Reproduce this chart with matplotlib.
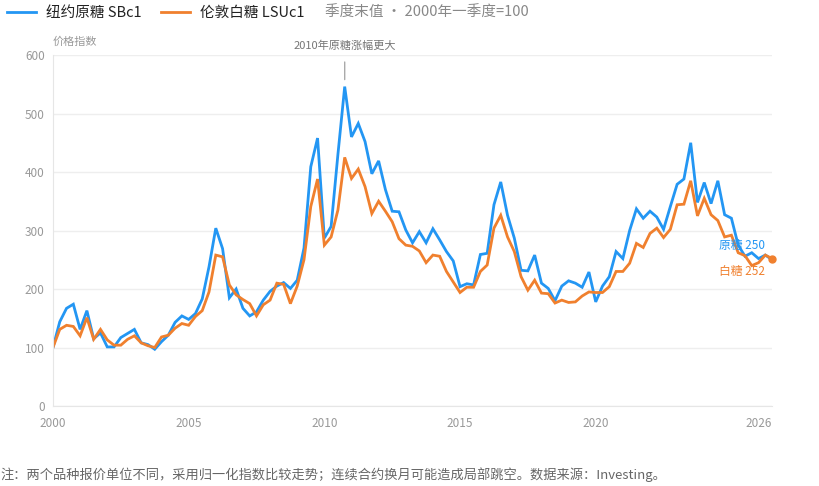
import matplotlib
matplotlib.use("Agg")
import matplotlib.pyplot as plt
import numpy as np

plt.rcParams['font.family'] = ['Noto Sans CJK SC', 'DejaVu Sans']

# quarterly index values, 2000 Q1 = 100
raw_sugar = [100, 144, 167, 174, 131, 163, 115, 125, 101, 101,
             117, 124, 131, 108, 105, 97, 110, 121, 143, 154,
             148, 158, 183, 238, 304, 269, 185, 200, 167, 154,
             161, 181, 196, 205, 211, 201, 215, 270, 409, 458,
             287, 307, 430, 546, 460, 483, 452, 397, 419, 370,
             333, 332, 301, 279, 298, 279, 303, 284, 264, 248,
             204, 209, 207, 259, 261, 344, 383, 326, 287, 232,
             231, 258, 210, 201, 180, 205, 214, 210, 203, 229,
             178, 205, 221, 264, 252, 300, 337, 321, 333, 323,
             302, 341, 379, 388, 450, 348, 382, 346, 385, 327,
             321, 275, 256, 262, 252, 258, 250]
white_sugar = [100, 131, 138, 136, 120, 151, 114, 131, 113, 104,
               104, 114, 120, 108, 103, 100, 118, 121, 133, 141,
               138, 153, 163, 195, 258, 255, 207, 190, 182, 175,
               154, 173, 181, 210, 208, 175, 205, 250, 341, 388,
               275, 289, 335, 425, 389, 405, 375, 329, 350, 333,
               315, 286, 275, 273, 265, 245, 258, 256, 230, 212,
               194, 203, 203, 230, 241, 304, 326, 289, 264, 221,
               198, 215, 193, 192, 176, 181, 177, 178, 188, 195,
               194, 194, 204, 230, 230, 244, 278, 271, 295, 304,
               288, 302, 344, 345, 385, 325, 355, 327, 317, 289,
               292, 262, 257, 240, 245, 258, 252]
quarters = 2000 + 0.25 * np.arange(len(raw_sugar))
year_ticks = [2000, 2005, 2010, 2015, 2020, 2026]

blue = '#2396f3'
orange = '#f0802e'

fig = plt.figure(figsize=(8.2, 4.86), dpi=100)
ax = fig.add_axes([0.0646, 0.1646, 0.877, 0.7222])

l1, = ax.plot(quarters, raw_sugar, color=blue, lw=2.0, solid_joinstyle='miter')
l2, = ax.plot(quarters, white_sugar, color=orange, lw=2.0, solid_joinstyle='miter')
ax.plot(quarters[-1], white_sugar[-1], 'o', color=orange, ms=5, clip_on=False)

ax.set_xlim(quarters[0], quarters[-1])
ax.set_ylim(0, 600)
ax.set_yticks(range(0, 601, 100))
ax.set_xticks(year_ticks)
ax.set_xticklabels([str(y) for y in year_ticks])
ax.grid(axis='y', color='#eeeeee', lw=1)
ax.set_axisbelow(True)
for s in ['top', 'right']:
    ax.spines[s].set_visible(False)
for s in ['left', 'bottom']:
    ax.spines[s].set_color('#e6e6e6')
ax.tick_params(length=0, colors='#999999', labelsize=8.5)
ax.tick_params(axis='x', pad=8)
ax.tick_params(axis='y', pad=6)

ax.text(0.0, 1.022, '价格指数', transform=ax.transAxes, fontsize=8,
        color='#999999', ha='left', va='bottom')

# peak annotation
peak_i = int(np.argmax(raw_sugar))
ax.annotate('2010年原糖涨幅更大', xy=(quarters[peak_i], raw_sugar[peak_i] + 12),
            xytext=(quarters[peak_i], 616), textcoords='data',
            ha='center', va='center', fontsize=8, color='#777777',
            annotation_clip=False,
            arrowprops=dict(arrowstyle='-', color='#aaaaaa', lw=1,
                            shrinkA=6, shrinkB=0))

# end labels
ax.text(quarters[-1] - 0.25, raw_sugar[-1] + 24, f'原糖 {raw_sugar[-1]}',
        color=blue, fontsize=8.5, ha='right', va='center')
ax.text(quarters[-1] - 0.25, white_sugar[-1] - 22, f'白糖 {white_sugar[-1]}',
        color=orange, fontsize=8.5, ha='right', va='center')

fig.legend([l1, l2], ['纽约原糖 SBc1', '伦敦白糖 LSUc1'], loc='upper left',
           bbox_to_anchor=(-0.008, 1.014), ncol=2, frameon=False,
           fontsize=10.5, handlelength=2.0, handletextpad=0.7,
           columnspacing=1.3, labelcolor='#222222')
fig.text(0.396, 0.974, '季度末值 · 2000年一季度=100', fontsize=10.5,
         color='#888888', ha='left', va='center')

fig.text(0.0, 0.008, '注：两个品种报价单位不同，采用归一化指数比较走势；'
         '连续合约换月可能造成局部跳空。数据来源：Investing。',
         fontsize=9.5, color='#666666', ha='left', va='bottom')

fig.savefig('out.png', dpi=100)
